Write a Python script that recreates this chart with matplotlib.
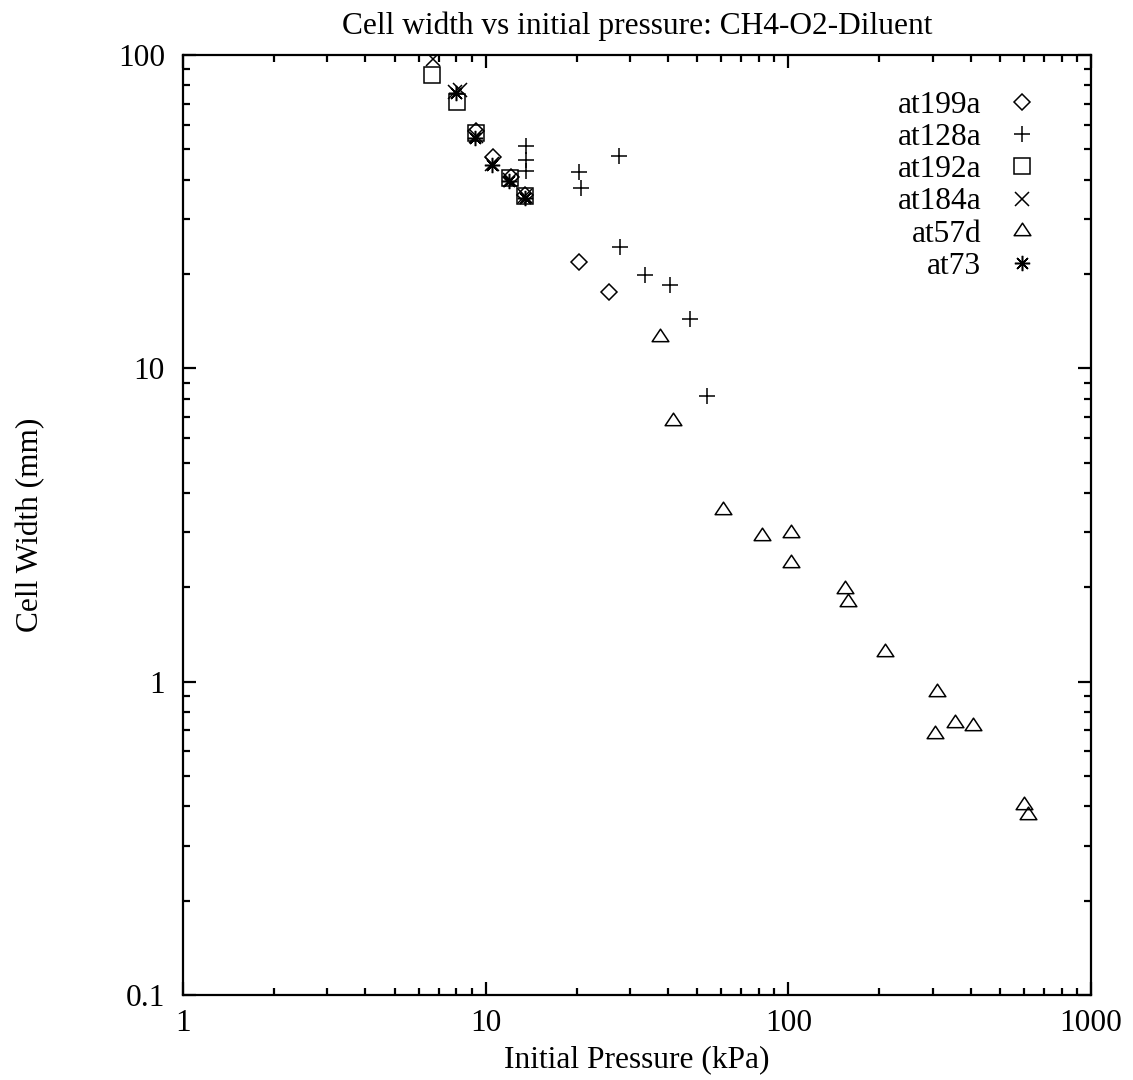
import matplotlib
matplotlib.use("Agg")
import matplotlib.pyplot as plt
from matplotlib.ticker import LogLocator, FixedLocator, NullFormatter, FixedFormatter
from matplotlib.path import Path

plt.rcParams['font.family'] = ['Liberation Serif', 'DejaVu Serif']

# ---- data (pressure kPa, cell width mm) ----
at199a_p = [9.3, 10.6, 12.1, 13.5, 20.4, 25.5]
at199a_w = [57.0, 47.2, 40.8, 35.7, 21.8, 17.5]

at128a_p = [13.6, 13.6, 13.6, 20.4, 20.7, 27.5, 27.7, 33.5, 40.8, 47.5, 53.7]
at128a_w = [51.2, 46.2, 42.6, 42.3, 37.6, 47.5, 24.4, 19.9, 18.5, 14.4, 8.15]

at192a_p = [6.66, 8.06, 9.31, 12.07, 13.5]
at192a_w = [86.5, 71.0, 56.5, 40.5, 35.5]

at184a_p = [6.71, 7.9, 8.2, 9.3, 10.5, 12.0, 13.5]
at184a_w = [97.0, 76.0, 77.5, 55.0, 45.0, 40.0, 35.5]

at57d_p = [37.8, 41.5, 60.7, 81.6, 101.9, 101.9, 153.7, 157.3, 208.4, 309.8, 355.0, 407.0, 305.0, 601.0, 620.0]
at57d_w = [12.6, 6.78, 3.52, 2.92, 2.99, 2.40, 1.97, 1.80, 1.24, 0.93, 0.74, 0.72, 0.68, 0.405, 0.376]

at73_p = [7.95, 9.25, 10.5, 11.9, 13.5]
at73_w = [75.5, 54.5, 44.5, 39.5, 35.0]

x_ticks = [1, 10, 100, 1000]
x_ticklabels = ["1", "10", "100", "1000"]
y_ticks = [0.1, 1, 10, 100]
y_ticklabels = ["0.1", "1", "10", "100"]

title = "Cell width vs initial pressure: CH4-O2-Diluent"
xlabel = "Initial Pressure (kPa)"
ylabel = "Cell Width (mm)"

FS = 22.6

# ---- figure ----
fig = plt.figure(figsize=(11.33, 10.8), dpi=100)
ax = fig.add_axes([183/1133, 1 - 995/1080, (1091-183)/1133, (995-55)/1080])
ax.set_xscale('log')
ax.set_yscale('log')
ax.set_xlim(1, 1000)
ax.set_ylim(0.1, 100)

tri = Path([(-1, -0.5), (1, -0.5), (0, 1), (-1, -0.5)],
           [Path.MOVETO, Path.LINETO, Path.LINETO, Path.CLOSEPOLY])

common = dict(linestyle='none', color='black', markerfacecolor='none',
              markeredgecolor='black', markeredgewidth=1.1)
ax.plot(at199a_p, at199a_w, marker='D', markersize=8, label='at199a', **common)
ax.plot(at128a_p, at128a_w, marker='+', markersize=11, label='at128a', **common)
ax.plot(at192a_p, at192a_w, marker='s', markersize=11, label='at192a', **common)
ax.plot(at184a_p, at184a_w, marker='x', markersize=10, label='at184a', **common)
ax.plot(at57d_p, at57d_w, marker=tri, markersize=12, label='at57d', **common)
ax.plot(at73_p, at73_w, marker=(8, 2, 0), markersize=11, label='at73', **common)

for s in ax.spines.values():
    s.set_linewidth(1.6)

ax.xaxis.set_major_locator(FixedLocator(x_ticks))
ax.xaxis.set_major_formatter(FixedFormatter(x_ticklabels))
ax.xaxis.set_minor_locator(LogLocator(base=10, subs=range(2, 10)))
ax.xaxis.set_minor_formatter(NullFormatter())
ax.yaxis.set_major_locator(FixedLocator(y_ticks))
ax.yaxis.set_major_formatter(FixedFormatter(y_ticklabels))
ax.yaxis.set_minor_locator(LogLocator(base=10, subs=range(2, 10)))
ax.yaxis.set_minor_formatter(NullFormatter())

ax.tick_params(which='both', direction='in', top=True, right=True, width=1.6,
               labelsize=FS)
ax.tick_params(which='major', length=9.5)
ax.tick_params(axis='x', which='major', pad=10)
ax.tick_params(axis='y', which='major', pad=13)
ax.tick_params(which='minor', length=5)

ax.set_title(title, fontsize=FS, pad=15)
ax.set_xlabel(xlabel, fontsize=FS, labelpad=5)
ax.set_ylabel(ylabel, fontsize=FS, labelpad=52)

leg = ax.legend(loc='upper right', bbox_to_anchor=(0.983, 0.985), frameon=False,
                markerfirst=False, fontsize=FS, labelspacing=0.1,
                handlelength=2.0, handletextpad=0.3, borderpad=0.2)

fig.savefig("out.png", dpi=100)
